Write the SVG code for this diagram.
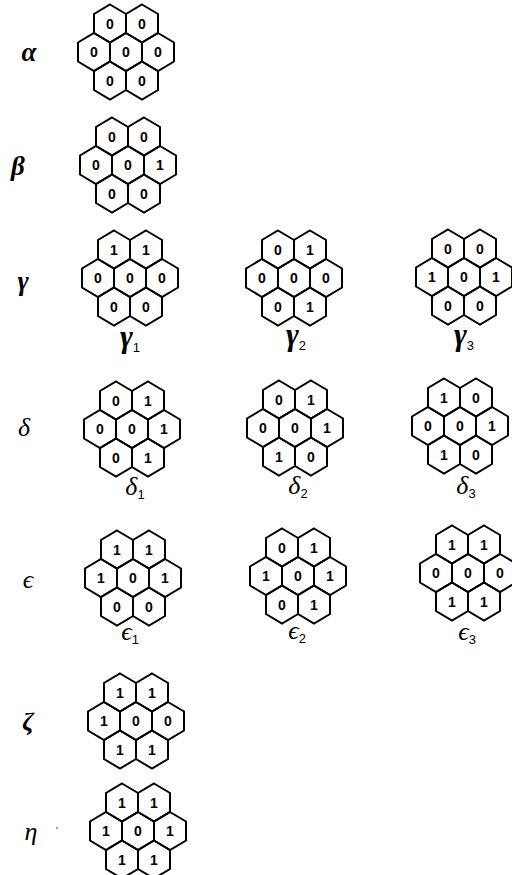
<svg xmlns="http://www.w3.org/2000/svg" xmlns:xlink="http://www.w3.org/1999/xlink" width="512" height="875" viewBox="0 0 512 875">
<style>
.hex{fill:none;stroke:#000;stroke-width:2;stroke-linejoin:miter}
.d{font-family:"Liberation Sans","DejaVu Sans",sans-serif;font-size:14px;font-weight:bold;text-anchor:middle;fill:#000}
.g{font-family:"Liberation Serif","DejaVu Serif",serif;font-style:italic;font-weight:bold;font-size:27px;fill:#000;text-anchor:middle}
.gl{font-size:31px}
.s{font-family:"Liberation Serif","DejaVu Serif",serif;font-style:italic;font-size:26px;fill:#000;text-anchor:middle}
.sb{font-weight:bold}
.sub{font-family:"Liberation Sans","DejaVu Sans",sans-serif;font-size:13px;font-style:normal;font-weight:normal}
</style>
<defs>
<path id="h" d="M0,-19 L16,-9.5 L16,9.5 L0,19 L-16,9.5 L-16,-9.5 Z"/>
<g id="cl" class="hex">
<use xlink:href="#h" x="-16" y="-28.5"/>
<use xlink:href="#h" x="16" y="-28.5"/>
<use xlink:href="#h" x="-32" y="0"/>
<use xlink:href="#h" x="0" y="0"/>
<use xlink:href="#h" x="32" y="0"/>
<use xlink:href="#h" x="-16" y="28.5"/>
<use xlink:href="#h" x="16" y="28.5"/>
</g>
</defs>
<g id="row-labels">
<text class="g" x="29" y="61">α</text>
<text class="g" x="18" y="175">β</text>
<text class="g" x="23" y="290">γ</text>
<text class="s" x="24" y="436">δ</text>
<text class="s" x="28" y="588">ϵ</text>
<text class="s sb" x="28" y="730">ζ</text>
<text class="s" x="31" y="840">η</text>
<circle cx="57" cy="828" r="0.7" fill="#000"/>
</g>
<g id="alpha" transform="translate(126,52)"><use xlink:href="#cl"/>
<text class="d" x="-16" y="-23.5">0</text><text class="d" x="16" y="-23.5">0</text><text class="d" x="-32" y="5">0</text><text class="d" x="0" y="5">0</text><text class="d" x="32" y="5">0</text><text class="d" x="-16" y="33.5">0</text><text class="d" x="16" y="33.5">0</text></g>
<g id="beta" transform="translate(128,165)"><use xlink:href="#cl"/>
<text class="d" x="-16" y="-23.5">0</text><text class="d" x="16" y="-23.5">0</text><text class="d" x="-32" y="5">0</text><text class="d" x="0" y="5">0</text><text class="d" x="32" y="5">1</text><text class="d" x="-16" y="33.5">0</text><text class="d" x="16" y="33.5">0</text></g>
<g id="gamma1" transform="translate(130,278)"><use xlink:href="#cl"/>
<text class="d" x="-16" y="-23.5">1</text><text class="d" x="16" y="-23.5">1</text><text class="d" x="-32" y="5">0</text><text class="d" x="0" y="5">0</text><text class="d" x="32" y="5">0</text><text class="d" x="-16" y="33.5">0</text><text class="d" x="16" y="33.5">0</text>
<text class="g gl" x="0" y="69">γ<tspan class="sub" dy="5">1</tspan></text></g>
<g id="gamma2" transform="translate(294,278)"><use xlink:href="#cl"/>
<text class="d" x="-16" y="-23.5">0</text><text class="d" x="16" y="-23.5">1</text><text class="d" x="-32" y="5">0</text><text class="d" x="0" y="5">0</text><text class="d" x="32" y="5">0</text><text class="d" x="-16" y="33.5">0</text><text class="d" x="16" y="33.5">1</text>
<text class="g gl" x="2" y="67">γ<tspan class="sub" dy="5">2</tspan></text></g>
<g id="gamma3" transform="translate(464,277)"><use xlink:href="#cl"/>
<text class="d" x="-16" y="-23.5">0</text><text class="d" x="16" y="-23.5">0</text><text class="d" x="-32" y="5">1</text><text class="d" x="0" y="5">0</text><text class="d" x="32" y="5">1</text><text class="d" x="-16" y="33.5">0</text><text class="d" x="16" y="33.5">0</text>
<text class="g gl" x="0" y="68">γ<tspan class="sub" dy="5">3</tspan></text></g>
<g id="delta1" transform="translate(132,429)"><use xlink:href="#cl"/>
<text class="d" x="-16" y="-23.5">0</text><text class="d" x="16" y="-23.5">1</text><text class="d" x="-32" y="5">0</text><text class="d" x="0" y="5">0</text><text class="d" x="32" y="5">1</text><text class="d" x="-16" y="33.5">0</text><text class="d" x="16" y="33.5">1</text>
<text class="s" x="3" y="66">δ<tspan class="sub" dy="4">1</tspan></text></g>
<g id="delta2" transform="translate(295,428)"><use xlink:href="#cl"/>
<text class="d" x="-16" y="-23.5">0</text><text class="d" x="16" y="-23.5">1</text><text class="d" x="-32" y="5">0</text><text class="d" x="0" y="5">0</text><text class="d" x="32" y="5">1</text><text class="d" x="-16" y="33.5">1</text><text class="d" x="16" y="33.5">0</text>
<text class="s" x="3" y="66">δ<tspan class="sub" dy="4">2</tspan></text></g>
<g id="delta3" transform="translate(460,426)"><use xlink:href="#cl"/>
<text class="d" x="-16" y="-23.5">1</text><text class="d" x="16" y="-23.5">0</text><text class="d" x="-32" y="5">0</text><text class="d" x="0" y="5">0</text><text class="d" x="32" y="5">1</text><text class="d" x="-16" y="33.5">1</text><text class="d" x="16" y="33.5">0</text>
<text class="s" x="6" y="68">δ<tspan class="sub" dy="4">3</tspan></text></g>
<g id="epsilon1" transform="translate(133,578)"><use xlink:href="#cl"/>
<text class="d" x="-16" y="-23.5">1</text><text class="d" x="16" y="-23.5">1</text><text class="d" x="-32" y="5">1</text><text class="d" x="0" y="5">0</text><text class="d" x="32" y="5">1</text><text class="d" x="-16" y="33.5">0</text><text class="d" x="16" y="33.5">0</text>
<text class="s" x="-3" y="62">ϵ<tspan class="sub" dy="4">1</tspan></text></g>
<g id="epsilon2" transform="translate(298,576)"><use xlink:href="#cl"/>
<text class="d" x="-16" y="-23.5">0</text><text class="d" x="16" y="-23.5">1</text><text class="d" x="-32" y="5">1</text><text class="d" x="0" y="5">0</text><text class="d" x="32" y="5">1</text><text class="d" x="-16" y="33.5">0</text><text class="d" x="16" y="33.5">1</text>
<text class="s" x="-1" y="63">ϵ<tspan class="sub" dy="4">2</tspan></text></g>
<g id="epsilon3" transform="translate(468,573)"><use xlink:href="#cl"/>
<text class="d" x="-16" y="-23.5">1</text><text class="d" x="16" y="-23.5">1</text><text class="d" x="-32" y="5">0</text><text class="d" x="0" y="5">0</text><text class="d" x="32" y="5">0</text><text class="d" x="-16" y="33.5">1</text><text class="d" x="16" y="33.5">1</text>
<text class="s" x="-1" y="67">ϵ<tspan class="sub" dy="4">3</tspan></text></g>
<g id="zeta" transform="translate(136,721)"><use xlink:href="#cl"/>
<text class="d" x="-16" y="-23.5">1</text><text class="d" x="16" y="-23.5">1</text><text class="d" x="-32" y="5">1</text><text class="d" x="0" y="5">0</text><text class="d" x="32" y="5">0</text><text class="d" x="-16" y="33.5">1</text><text class="d" x="16" y="33.5">1</text></g>
<g id="eta" transform="translate(138,831)"><use xlink:href="#cl"/>
<text class="d" x="-16" y="-23.5">1</text><text class="d" x="16" y="-23.5">1</text><text class="d" x="-32" y="5">1</text><text class="d" x="0" y="5">0</text><text class="d" x="32" y="5">1</text><text class="d" x="-16" y="33.5">1</text><text class="d" x="16" y="33.5">1</text></g>
</svg>
